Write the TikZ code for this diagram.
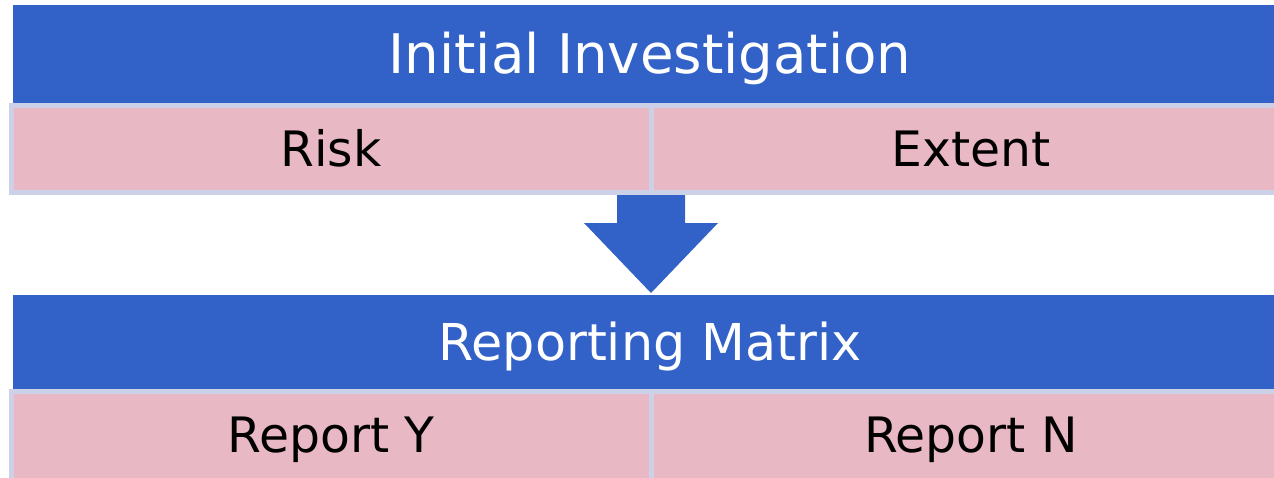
\documentclass[tikz,border=0pt]{standalone}
\usepackage{fontspec}
\setmainfont{DejaVu Sans}

\definecolor{barblue}{RGB}{50,98,200}
\definecolor{cellpink}{RGB}{232,185,196}
\definecolor{cellrim}{RGB}{205,209,232}

\tikzset{
  headbar/.style={rectangle, fill=barblue, text=white, inner sep=0pt,
    minimum width=637pt, text depth=0pt},
  cell/.style={rectangle, fill=cellpink, draw=cellrim, line width=2.5pt,
    inner sep=0pt, minimum width=320pt, minimum height=43.5pt,
    text depth=0pt, text height=17.8pt, font=\fontsize{24.4}{28}\selectfont},
}

\begin{document}
\begin{tikzpicture}[x=0.5pt, y=-0.5pt]
    \useasboundingbox (0,0) rectangle (1274,477);
    \clip (0,0) rectangle (1274,477);
    % top block
    \node[headbar, minimum height=49pt, text height=19.9pt,
      font=\fontsize{27.3}{32}\selectfont] (inv) at (650,54) {Initial Investigation};
    \node[cell] (risk) at (331,149) {Risk};
    \node[cell] (extent) at (971,149) {Extent};
    % block arrow between the two
    \coordinate (sl) at (617,195);
    \coordinate (sr) at (685,195);
    \coordinate (tip) at (651,293);
    \fill[barblue] (sl) -- (sr) -- (685,223) -- (718,223) -- (tip)
      -- (584,223) -- (617,223) -- cycle;
    % bottom block, its cells run off the lower edge
    \node[headbar, minimum height=47pt, text height=18.5pt,
      font=\fontsize{25.4}{30}\selectfont] (matrix) at (650,342) {Reporting Matrix};
    \node[cell, minimum height=48pt, text depth=5pt] (repy) at (331,439.5) {Report Y};
    \node[cell, minimum height=48pt, text depth=5pt] (repn) at (971,439.5) {Report N};
\end{tikzpicture}
\end{document}
